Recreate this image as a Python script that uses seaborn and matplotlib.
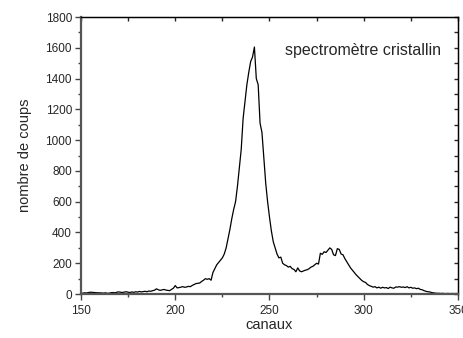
import numpy as np
import pandas as pd
import matplotlib
matplotlib.use("Agg")
import matplotlib.pyplot as plt
import seaborn as sns
from matplotlib.ticker import MultipleLocator

# Spectre (canal 150 -> 350)
canaux = np.arange(150, 351)
coups = [
    # 150-169
    5, 6, 8, 7, 10, 12, 11, 10, 9, 8, 8, 7, 6, 8, 5, 6, 9, 10, 8, 12,
    # 170-189
    14, 12, 10, 13, 15, 12, 10, 14, 11, 15, 13, 17, 14, 16, 18, 15, 20, 18, 22, 25,
    # 190-209
    34, 28, 24, 27, 30, 26, 24, 22, 30, 38, 55, 40, 42, 45, 48, 44, 46, 50, 48, 56,
    # 210-229
    62, 68, 70, 72, 82, 90, 100, 96, 100, 90, 140, 165, 190, 205, 220, 235, 260, 300, 360, 420,
    # 230-249
    490, 550, 600, 700, 820, 940, 1140, 1250, 1360, 1440, 1510, 1540, 1605, 1400, 1360, 1110, 1050, 880, 720, 600,
    # 250-269
    500, 410, 340, 300, 260, 235, 240, 200, 190, 185, 175, 180, 165, 160, 145, 170, 150, 145, 150, 155,
    # 270-289
    158, 165, 175, 180, 190, 200, 195, 265, 258, 275, 270, 285, 300, 290, 255, 250, 295, 290, 260, 255,
    # 290-309
    230, 210, 190, 170, 155, 140, 125, 112, 100, 88, 80, 75, 62, 55, 50, 45, 48, 40, 45, 38,
    # 310-329
    44, 40, 42, 36, 45, 40, 38, 46, 45, 48, 44, 46, 42, 48, 40, 44, 38, 40, 35, 38,
    # 330-350
    30, 28, 22, 18, 15, 14, 10, 8, 6, 5, 5, 4, 5, 3, 4, 4, 3, 4, 3, 4, 3,
]

df = pd.DataFrame({"canaux": canaux, "coups": coups})

sns.set_style("ticks")
plt.rcParams["font.family"] = ["Liberation Sans", "DejaVu Sans"]

fig = plt.figure(figsize=(4.64, 3.38), dpi=100)
ax = fig.add_axes([0.1746, 0.130, 0.8124, 0.8197])

sns.lineplot(data=df, x="canaux", y="coups", ax=ax, color="black", linewidth=0.9)

ax.set_xlim(150, 350)
ax.set_ylim(0, 1800)
ax.xaxis.set_major_locator(MultipleLocator(50))
ax.xaxis.set_minor_locator(MultipleLocator(25))
ax.yaxis.set_major_locator(MultipleLocator(200))
ax.yaxis.set_minor_locator(MultipleLocator(100))

ax.tick_params(which="both", direction="out", labelsize=8.5, color="#444444",
               top=False, right=False)
ax.tick_params(axis="x", pad=4)
ax.tick_params(axis="y", pad=2.5)
ax.tick_params(which="major", length=4, width=1.0)
ax.tick_params(which="minor", length=2.5, width=1.0)

# axes secondaires (ticks vers l'intérieur)
ax_top = ax.secondary_xaxis("top")
ax_top.xaxis.set_major_locator(MultipleLocator(25))
ax_top.tick_params(direction="in", length=3, width=1.0, labeltop=False)
ax_right = ax.secondary_yaxis("right")
ax_right.yaxis.set_major_locator(MultipleLocator(100))
ax_right.tick_params(direction="in", length=3, width=1.0, labelright=False)

for side in ["left", "bottom"]:
    ax.spines[side].set_color("#555555")
    ax.spines[side].set_linewidth(1.6)
for side in ["top", "right"]:
    ax.spines[side].set_color("black")
    ax.spines[side].set_linewidth(1.0)

ax.set_xlabel("canaux", fontsize=10.5)
ax.set_ylabel("nombre de coups", fontsize=10.5)
ax.xaxis.set_label_coords(0.5, -0.112)
ax.yaxis.set_label_coords(-0.1485, 0.5)
ax.xaxis.label.set_va("center")
ax.yaxis.label.set_va("center")

ax.text(258, 1585, "spectromètre cristallin", fontsize=11.5, ha="left", va="center")

fig.savefig("out.png", dpi=100)
